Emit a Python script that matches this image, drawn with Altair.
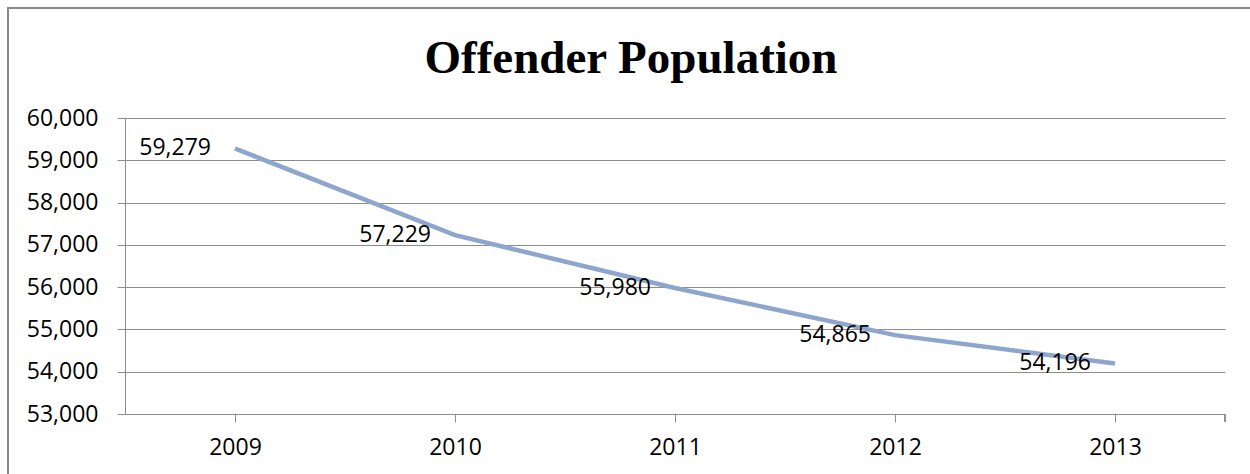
import altair as alt
import pandas as pd

years = ["2009", "2010", "2011", "2012", "2013"]
population = [59279, 57229, 55980, 54865, 54196]
labels = ["59,279", "57,229", "55,980", "54,865", "54,196"]
title_text = ["Offender Population"]

df = pd.DataFrame({"year": years, "pop": population, "label": labels})
tdf = pd.DataFrame({"t": title_text})

W, H = 1100, 296
FONT = "Open Sans"
FS = 23
GRID = "#8c8c8c"

x = alt.X("year:N", title=None, sort=years,
          scale=alt.Scale(paddingInner=0, paddingOuter=0),
          axis=alt.Axis(labelAngle=0, bandPosition=0, tickSize=8, tickColor=GRID,
                        domainColor=GRID, labelFont=FONT, labelFontSize=FS,
                        labelColor="#000", labelPadding=14, grid=False))
y = alt.Y("pop:Q", title=None,
          scale=alt.Scale(domain=[53000, 60000], nice=False, zero=False),
          axis=alt.Axis(values=list(range(53000, 60001, 1000)), format=",.0f",
                        tickSize=8, tickColor=GRID, domainColor=GRID, gridColor=GRID,
                        labelFont=FONT, labelFontSize=FS, labelColor="#000",
                        labelPadding=19))

line = alt.Chart(df).mark_line(color="#8EA5CE", strokeWidth=4.5).encode(x=x, y=y)
text = alt.Chart(df).mark_text(align="right", baseline="middle", dx=-24,
                               font=FONT, fontSize=FS, color="#000").encode(
    x=alt.X("year:N", sort=years), y="pop:Q", text="label:N")

end_tick = alt.Chart(df).mark_rule(color=GRID, strokeWidth=1).encode(
    x=alt.value(W), y=alt.value(H), y2=alt.value(H + 8))

border = alt.Chart(df).mark_rect(fill=None, stroke="#8a8a8a", strokeWidth=2).encode(
    x=alt.value(-117), x2=alt.value(1140), y=alt.value(-110), y2=alt.value(420))

title = alt.Chart(tdf).mark_text(font="Liberation Serif", fontSize=47, fontWeight="bold",
                                 color="#000", align="center", baseline="alphabetic").encode(
    x=alt.value(506), y=alt.value(-45), text="t:N")

chart = alt.layer(border, line, text, end_tick, title).properties(
    width=W, height=H,
    autosize="none",
    padding={"left": 125, "top": 118, "right": 25, "bottom": 60},
).configure_view(stroke=None)

chart.save("out.html", embed_options={"renderer": "svg", "actions": False})
